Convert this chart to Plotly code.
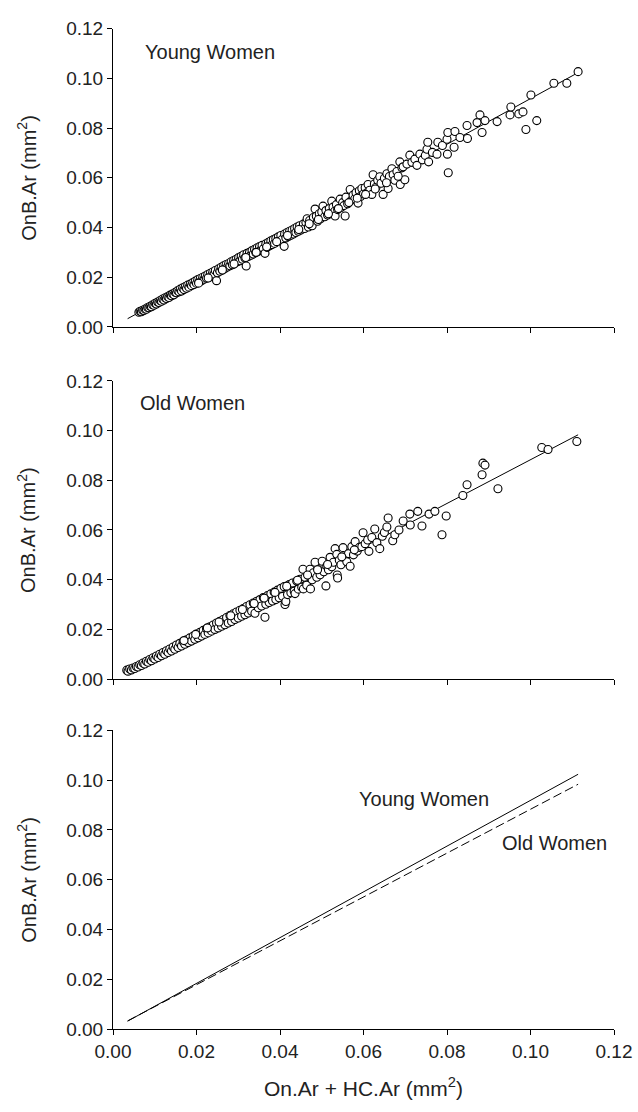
import plotly.graph_objects as go

# ---------------- data ----------------
young_x = [0.0062,0.0065,0.0068,0.0071,0.0074,0.0077,0.0080,0.0083,0.0086,0.0089,0.0092,0.0095,0.0098,0.0101,0.0104,0.0107,0.0110,0.0113,0.0116,0.0119,0.0122,0.0125,0.0128,0.0131,0.0134,0.0137,0.0140,0.0143,0.0146,0.0149,
           0.0152,0.0155,0.0158,0.0161,0.0164,0.0167,0.0170,0.0173,0.0176,0.0179,0.0182,0.0185,0.0188,0.0191,0.0194,0.0197,0.0200,0.0203,0.0206,0.0209,0.0212,0.0215,0.0218,0.0221,0.0224,0.0227,0.0230,0.0233,0.0236,0.0239,
           0.0242,0.0245,0.0248,0.0250,0.0253,0.0256,0.0259,0.0262,0.0265,0.0268,0.0271,0.0274,0.0277,0.0280,0.0283,0.0286,0.0289,0.0292,0.0295,0.0298,
           0.0301,0.0304,0.0307,0.0310,0.0313,0.0316,0.0319,0.0321,0.0324,0.0327,0.0330,0.0333,0.0336,0.0339,0.0342,0.0345,0.0348,0.0351,0.0354,0.0357,0.0360,0.0364,0.0366,0.0369,0.0372,0.0375,0.0378,0.0381,0.0384,0.0387,
           0.0390,0.0393,0.0396,0.0399,0.0402,0.0405,0.0410,0.0411,0.0414,0.0417,0.0420,0.0423,0.0426,0.0429,0.0432,0.0435,0.0438,0.0441,0.0444,0.0447,0.0450,0.0453,0.0456,0.0459,0.0462,0.0465,0.0468,0.0471,0.0474,0.0477,
           0.0480,0.0484,0.0487,0.0490,0.0494,0.0497,0.0500,0.0503,0.0507,0.0510,0.0514,0.0518,0.0521,0.0524,0.0527,0.0531,0.0532,0.0535,0.0538,0.0544,0.0546,0.0550,0.0553,0.0556,0.0558,0.0562,0.0568,0.0571,0.0575,0.0579,
           0.0582,0.0587,0.0590,0.0593,0.0596,0.0600,0.0604,0.0608,0.0611,0.0615,0.0620,0.0623,0.0626,0.0630,0.0634,0.0639,0.0642,0.0647,0.0650,0.0656,0.0659,0.0662,0.0668,0.0671,0.0675,0.0680,0.0687,0.0688,0.0692,0.0695,
           0.0699,0.0704,0.0711,0.0716,0.0723,0.0728,0.0735,0.0741,0.0748,0.0752,0.0754,0.0756,0.0765,0.0776,0.0778,0.0789,0.0800,0.0801,0.0802,0.0803,0.0817,0.0819,0.0831,0.0848,0.0849,0.0872,0.0879,0.0884,0.0891,0.0920,
           0.0951,0.0953,0.0972,0.0982,0.0989,0.1001,0.1015,0.1056,0.1087,0.1114,
           0.0205,0.0228,0.0262,0.0290,0.0318,0.0343,0.0368,0.0392,0.0418,0.0445,0.0470,0.0492,0.0516,0.0540,0.0565,0.0585,0.0605,0.0628,0.0655,0.0683]
young_y = [0.0059,0.0063,0.0061,0.0067,0.0066,0.0072,0.0071,0.0078,0.0077,0.0083,0.0081,0.0089,0.0087,0.0095,0.0092,0.0100,0.0098,0.0106,0.0103,0.0112,0.0108,0.0117,0.0114,0.0122,0.0118,0.0128,0.0125,0.0133,0.0129,0.0139,
           0.0137,0.0146,0.0141,0.0152,0.0144,0.0157,0.0150,0.0162,0.0155,0.0168,0.0160,0.0172,0.0166,0.0178,0.0170,0.0184,0.0175,0.0190,0.0181,0.0195,0.0186,0.0200,0.0192,0.0205,0.0196,0.0211,0.0200,0.0216,0.0207,0.0221,
           0.0212,0.0227,0.0186,0.0218,0.0234,0.0224,0.0240,0.0229,0.0246,0.0235,0.0251,0.0241,0.0255,0.0246,0.0262,0.0250,0.0267,0.0257,0.0272,0.0262,
           0.0279,0.0266,0.0284,0.0272,0.0290,0.0277,0.0245,0.0296,0.0283,0.0300,0.0288,0.0307,0.0293,0.0312,0.0299,0.0318,0.0304,0.0323,0.0310,0.0328,0.0314,0.0296,0.0334,0.0320,0.0340,0.0326,0.0346,0.0331,0.0351,0.0336,
           0.0356,0.0342,0.0362,0.0347,0.0368,0.0352,0.0324,0.0374,0.0358,0.0380,0.0364,0.0385,0.0369,0.0390,0.0374,0.0396,0.0380,0.0402,0.0385,0.0407,0.0390,0.0399,0.0414,0.0396,0.0420,0.0435,0.0402,0.0428,0.0410,0.0407,
           0.0440,0.0474,0.0445,0.0425,0.0455,0.0435,0.0462,0.0486,0.0443,0.0468,0.0450,0.0476,0.0458,0.0506,0.0482,0.0465,0.0446,0.0492,0.0472,0.0514,0.0480,0.0500,0.0488,0.0446,0.0522,0.0495,0.0553,0.0510,0.0530,0.0515,
           0.0540,0.0498,0.0548,0.0525,0.0557,0.0535,0.0560,0.0540,0.0573,0.0550,0.0533,0.0612,0.0575,0.0562,0.0590,0.0604,0.0578,0.0533,0.0598,0.0616,0.0557,0.0605,0.0636,0.0612,0.0590,0.0625,0.0664,0.0573,0.0640,0.0644,
           0.0592,0.0655,0.0691,0.0662,0.0675,0.0650,0.0695,0.0672,0.0690,0.0715,0.0743,0.0664,0.0702,0.0695,0.0743,0.0730,0.0755,0.0695,0.0782,0.0620,0.0723,0.0786,0.0762,0.0810,0.0758,0.0822,0.0853,0.0782,0.0830,0.0826,
           0.0853,0.0885,0.0857,0.0865,0.0794,0.0933,0.0830,0.0980,0.0980,0.1027,
           0.0176,0.0197,0.0229,0.0253,0.0279,0.0300,0.0322,0.0343,0.0368,0.0392,0.0415,0.0432,0.0455,0.0476,0.0500,0.0518,0.0533,0.0555,0.0580,0.0606]

old_x = [0.0033,0.0036,0.0040,0.0044,0.0048,0.0052,0.0056,0.0060,0.0064,0.0068,0.0072,0.0076,0.0080,0.0084,0.0088,0.0092,0.0096,0.0100,0.0104,0.0108,0.0112,0.0116,0.0120,0.0124,0.0128,0.0132,0.0136,0.0140,0.0144,0.0148,
         0.0152,0.0156,0.0160,0.0164,0.0168,0.0172,0.0176,0.0180,0.0184,0.0188,0.0192,0.0196,0.0200,0.0204,0.0208,0.0212,0.0216,0.0220,0.0224,0.0228,0.0232,0.0236,0.0240,0.0244,0.0248,0.0252,0.0256,0.0260,0.0264,0.0268,
         0.0272,0.0276,0.0280,0.0284,0.0288,0.0292,0.0296,0.0300,0.0304,0.0308,0.0312,0.0316,0.0320,0.0324,0.0328,0.0332,0.0336,0.0340,0.0344,0.0348,0.0352,0.0356,0.0360,0.0364,0.0366,0.0370,0.0374,0.0378,0.0382,0.0386,
         0.0390,0.0394,0.0398,0.0402,0.0406,0.0410,0.0412,0.0414,0.0418,0.0422,0.0426,0.0430,0.0434,0.0436,0.0440,0.0444,0.0448,0.0452,0.0455,0.0456,0.0460,0.0464,0.0468,0.0472,0.0473,0.0477,0.0480,0.0484,0.0488,0.0492,
         0.0496,0.0501,0.0505,0.0510,0.0512,0.0516,0.0520,0.0524,0.0528,0.0532,0.0536,0.0537,0.0538,0.0542,0.0546,0.0551,0.0556,0.0560,0.0564,0.0568,0.0572,0.0576,0.0580,0.0585,0.0590,0.0596,0.0599,0.0604,0.0610,0.0613,
         0.0620,0.0627,0.0632,0.0639,0.0645,0.0650,0.0656,0.0659,0.0670,0.0675,0.0685,0.0695,0.0711,0.0712,0.0730,0.0740,0.0757,0.0771,0.0788,0.0798,0.0838,0.0848,0.0884,0.0886,0.0891,0.0922,0.1027,0.1042,0.1111,
         0.0170,0.0198,0.0226,0.0254,0.0282,0.0310,0.0338,0.0362,0.0388,0.0416,0.0442,0.0466,0.0490,0.0514,0.0548,0.0578]
old_y = [0.0036,0.0032,0.0041,0.0037,0.0045,0.0043,0.0051,0.0049,0.0058,0.0055,0.0065,0.0061,0.0072,0.0068,0.0079,0.0074,0.0086,0.0081,0.0093,0.0087,0.0100,0.0094,0.0107,0.0100,0.0114,0.0107,0.0121,0.0113,0.0129,0.0120,
         0.0137,0.0127,0.0144,0.0133,0.0151,0.0140,0.0158,0.0147,0.0166,0.0153,0.0173,0.0160,0.0181,0.0166,0.0188,0.0173,0.0196,0.0180,0.0203,0.0186,0.0211,0.0193,0.0218,0.0200,0.0226,0.0206,0.0233,0.0213,0.0240,0.0219,
         0.0248,0.0226,0.0256,0.0232,0.0263,0.0240,0.0270,0.0246,0.0277,0.0253,0.0284,0.0259,0.0292,0.0266,0.0299,0.0273,0.0306,0.0265,0.0313,0.0287,0.0320,0.0294,0.0328,0.0249,0.0301,0.0336,0.0308,0.0343,0.0314,0.0350,
         0.0320,0.0358,0.0327,0.0365,0.0333,0.0372,0.0300,0.0312,0.0340,0.0380,0.0347,0.0387,0.0354,0.0344,0.0395,0.0362,0.0402,0.0370,0.0442,0.0363,0.0410,0.0378,0.0418,0.0442,0.0363,0.0400,0.0428,0.0470,0.0410,0.0440,
         0.0420,0.0474,0.0432,0.0375,0.0455,0.0440,0.0490,0.0452,0.0470,0.0525,0.0502,0.0419,0.0407,0.0478,0.0460,0.0529,0.0490,0.0472,0.0505,0.0454,0.0533,0.0500,0.0553,0.0515,0.0530,0.0533,0.0589,0.0545,0.0560,0.0514,
         0.0570,0.0604,0.0549,0.0525,0.0575,0.0590,0.0612,0.0648,0.0557,0.0581,0.0600,0.0636,0.0664,0.0620,0.0675,0.0616,0.0664,0.0675,0.0581,0.0656,0.0739,0.0782,0.0822,0.0869,0.0861,0.0766,0.0932,0.0924,0.0956,
         0.0155,0.0180,0.0206,0.0230,0.0255,0.0280,0.0304,0.0326,0.0349,0.0374,0.0398,0.0419,0.0440,0.0461,0.0492,0.0520]

# regression lines (end points)
young_fit_x = [0.0035, 0.1114]
young_fit_y = [0.0033, 0.1023]
old_fit_x = [0.0035, 0.1114]
old_fit_y = [0.0034, 0.0983]

tick_vals = [0.00, 0.02, 0.04, 0.06, 0.08, 0.10, 0.12]
tick_text = ["0.00", "0.02", "0.04", "0.06", "0.08", "0.10", "0.12"]

# ---------------- figure ----------------
W, H = 638, 1112
FONT = "Liberation Sans, Arial, sans-serif"
TXT = "#222222"

fig = go.Figure()

marker = dict(symbol="circle", size=8, color="white", line=dict(color="black", width=1.1))

# panel 1: young
fig.add_trace(go.Scatter(x=young_fit_x, y=young_fit_y, mode="lines",
                         line=dict(color="black", width=1), xaxis="x", yaxis="y", showlegend=False))
fig.add_trace(go.Scatter(x=young_x, y=young_y, mode="markers", marker=marker,
                         xaxis="x", yaxis="y", showlegend=False))
# panel 2: old
fig.add_trace(go.Scatter(x=old_fit_x, y=old_fit_y, mode="lines",
                         line=dict(color="black", width=1), xaxis="x2", yaxis="y2", showlegend=False))
fig.add_trace(go.Scatter(x=old_x, y=old_y, mode="markers", marker=marker,
                         xaxis="x2", yaxis="y2", showlegend=False))
# panel 3: both lines
fig.add_trace(go.Scatter(x=young_fit_x, y=young_fit_y, mode="lines",
                         line=dict(color="black", width=1), xaxis="x3", yaxis="y3", showlegend=False))
fig.add_trace(go.Scatter(x=old_fit_x, y=old_fit_y, mode="lines",
                         line=dict(color="black", width=1, dash="9px,4px"), xaxis="x3", yaxis="y3", showlegend=False))

def px_y(top, bottom):
    return [1 - bottom / H, 1 - top / H]

left_px, right_px = 113, 614
common_axis = dict(range=[0, 0.12], tickvals=tick_vals, ticktext=tick_text,
                   showgrid=False, zeroline=False, showline=True, linecolor="black", linewidth=1,
                   ticks="outside", ticklen=5, tickcolor="black", tickwidth=1,
                   tickfont=dict(family=FONT, size=19, color=TXT))

doms = [px_y(19, 323), px_y(378, 682), px_y(734, 1039)]
for i, dom in enumerate(doms, start=1):
    sfx = "" if i == 1 else str(i)
    fig.layout["xaxis" + sfx] = dict(common_axis, domain=[0, 1], anchor="y" + sfx,
                                     showticklabels=(i == 3))
    fig.layout["yaxis" + sfx] = dict(common_axis, domain=dom, anchor="x" + sfx)

annots = []
ytitle_x = (27 - left_px) / (right_px - left_px)
for dom in doms:
    annots.append(dict(text="OnB.Ar (mm<sup>2</sup>)", textangle=-90, xref="paper", yref="paper",
                       x=ytitle_x, y=(dom[0] + dom[1]) / 2, xanchor="center", yanchor="middle",
                       showarrow=False, font=dict(family=FONT, size=20, color=TXT)))
annots.append(dict(text="On.Ar + HC.Ar (mm<sup>2</sup>)", xref="paper", yref="paper",
                   x=(363 - left_px) / (right_px - left_px), y=1 - 1098 / H,
                   xanchor="center", yanchor="middle", showarrow=False,
                   font=dict(family=FONT, size=21, color=TXT)))
annots.append(dict(text="Young Women", xref="x", yref="y", x=0.0072, y=0.1106,
                   xanchor="left", yanchor="middle", showarrow=False,
                   font=dict(family=FONT, size=20, color=TXT)))
annots.append(dict(text="Old Women", xref="x2", yref="y2", x=0.0060, y=0.1110,
                   xanchor="left", yanchor="middle", showarrow=False,
                   font=dict(family=FONT, size=20, color=TXT)))
annots.append(dict(text="Young Women", xref="x3", yref="y3", x=0.0584, y=0.0925,
                   xanchor="left", yanchor="middle", showarrow=False,
                   font=dict(family=FONT, size=20, color=TXT)))
annots.append(dict(text="Old Women", xref="x3", yref="y3", x=0.0927, y=0.0748,
                   xanchor="left", yanchor="middle", showarrow=False,
                   font=dict(family=FONT, size=20, color=TXT)))

fig.update_layout(width=W, height=H, margin=dict(l=left_px, r=W - right_px, t=0, b=0),
                  paper_bgcolor="white", plot_bgcolor="white", annotations=annots,
                  showlegend=False)

fig.write_html("out.html")
